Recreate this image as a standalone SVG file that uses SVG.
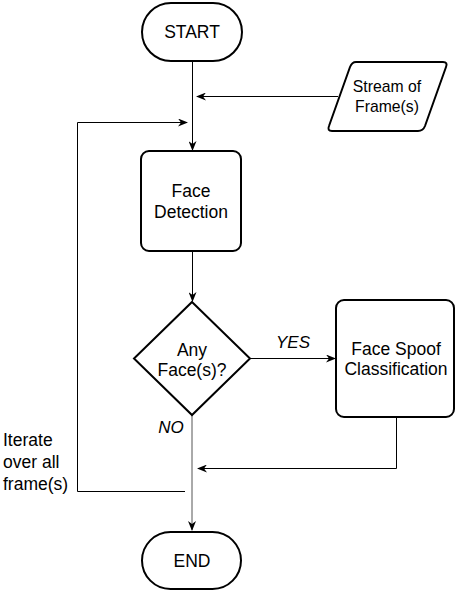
<svg xmlns="http://www.w3.org/2000/svg" width="455" height="592" viewBox="0 0 455 592">
<defs>
<marker id="arr" markerWidth="10" markerHeight="8" refX="9" refY="4" orient="auto" markerUnits="userSpaceOnUse">
<path d="M0,0 L10,4 L0,8 L3,4 z" fill="#000"/>
</marker>
<style>
.node{fill:#fff;stroke:#000;stroke-width:2}
.t{font-family:"Liberation Sans",Arial,sans-serif;font-size:17.5px;fill:#000;text-anchor:middle}
.s{font-size:15.75px}
.i{font-style:italic;font-size:17px}
.c{fill:none;stroke:#000;stroke-width:1}
</style>
</defs>
<g id="connectors">
<path class="c" d="M192.5,62 V150" marker-end="url(#arr)"/>
<path class="c" d="M338,96.5 H197" marker-end="url(#arr)"/>
<path class="c" d="M185,491.5 H77.5 V122.5 H187" marker-end="url(#arr)"/>
<path class="c" d="M192.5,252 V301" marker-end="url(#arr)"/>
<path class="c" d="M250,358.5 H335" marker-end="url(#arr)"/>
<path class="c" style="stroke:#555" d="M192,415 V530" marker-end="url(#arr)"/>
<path class="c" d="M396.5,417 V468.5 H198" marker-end="url(#arr)"/>
<text class="t i" x="293" y="348">YES</text>
<text class="t i" x="171" y="433">NO</text>
<text class="t" x="3" y="446" style="text-anchor:start">Iterate</text>
<text class="t" x="3" y="468" style="text-anchor:start">over all</text>
<text class="t" x="3" y="490" style="text-anchor:start">frame(s)</text>
</g>
<g id="start">
<rect class="node" x="142" y="3" width="100" height="58" rx="29"/>
<text class="t" x="192" y="38">START</text>
</g>
<g id="stream">
<path class="node" d="M356,62 H443 Q448,62 446,67 L425,126 Q423,131 418,131 H332 Q327,131 329,126 L350,67 Q352,62 356,62 Z"/>
<text class="t s" x="387" y="92">Stream of</text>
<text class="t s" x="387" y="112">Frame(s)</text>
</g>
<g id="face-detection">
<rect class="node" x="141" y="151" width="100" height="100" rx="8"/>
<text class="t" x="191" y="197">Face</text>
<text class="t" x="191" y="218">Detection</text>
</g>
<g id="decision">
<path class="node" d="M192,302 L250,358.5 L192,415 L134,358.5 Z"/>
<text class="t" x="192" y="356">Any</text>
<text class="t" x="192" y="376">Face(s)?</text>
</g>
<g id="spoof">
<rect class="node" x="336" y="300" width="118" height="117" rx="8"/>
<text class="t" x="396" y="355">Face Spoof</text>
<text class="t" x="396" y="375">Classification</text>
</g>
<g id="end">
<rect class="node" x="142" y="532" width="99" height="57" rx="28.5"/>
<text class="t" x="192" y="567">END</text>
</g>
</svg>
